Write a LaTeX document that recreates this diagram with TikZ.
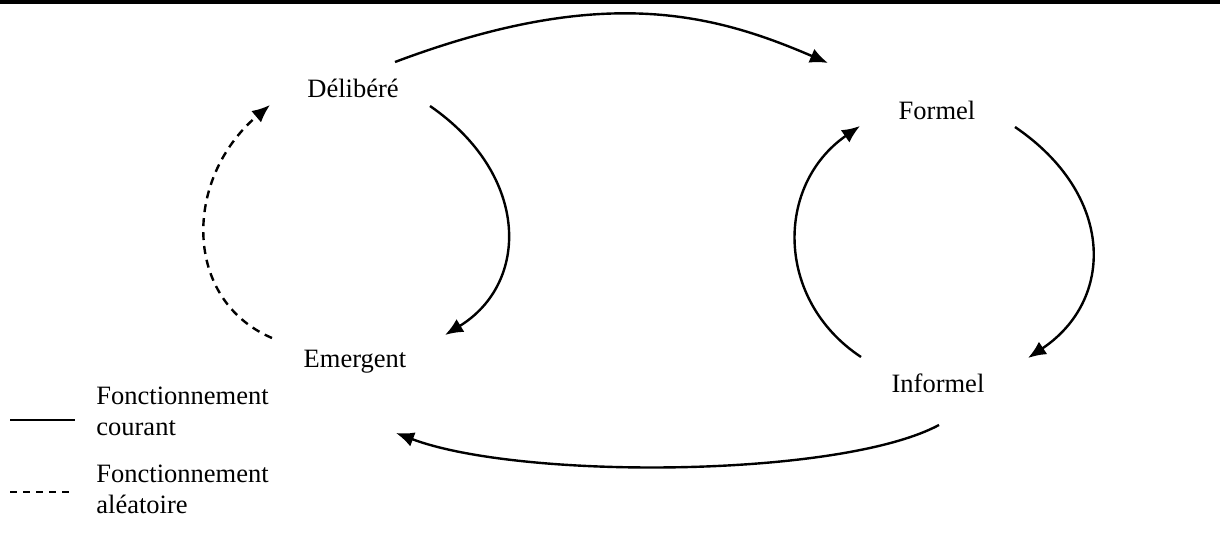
\documentclass[tikz,border=0pt]{standalone}
\usepackage{fontspec}
\setmainfont{Liberation Serif}
\usetikzlibrary{arrows.meta}
\begin{document}
\begin{tikzpicture}[x=0.5pt,y=-0.5pt,
  lbl/.style={font=\fontsize{13.25pt}{15pt}\selectfont, inner sep=0pt},
  leg/.style={font=\fontsize{13.25pt}{15.5pt}\selectfont, inner sep=0pt, align=left, anchor=north west},
  conn/.style={line width=1.2pt, -{Latex[length=9pt,width=7.5pt]}},
  dconn/.style={conn, dash pattern=on 4pt off 3pt},
  legline/.style={line width=1.2pt}]
\useasboundingbox (0,0) rectangle (1220,555);
\fill (0,0) rectangle (1220,4);
\node[lbl] (D) at (353,88) {Délibéré};
\node[lbl] (F) at (937,110) {Formel};
\node[lbl] (E) at (355,362) {Emergent};
\node[lbl] (I) at (938,383) {Informel};
% connectors
\draw[conn] ([shift={(42,-26)}]D.center) .. controls (600,-15) and (710,12) .. ([shift={(-109,-47)}]F.center);
\draw[conn] ([shift={(77,18)}]D.center) .. controls (530,175) and (530,283) .. ([shift={(90,-27)}]E.center);
\draw[dconn] ([shift={(-83,-24)}]E.center) .. controls (183,300) and (183,179) .. ([shift={(-83,17)}]D.center);
\draw[conn] ([shift={(78,17)}]F.center) .. controls (1115,195) and (1115,300) .. ([shift={(90,-25)}]I.center);
\draw[conn] ([shift={(-77,-26)}]I.center) .. controls (775,300) and (775,185) .. ([shift={(-77,16)}]F.center);
\draw[conn] ([shift={(1,42)}]I.center) .. controls (840,478) and (520,480) .. ([shift={(41,71)}]E.center);
% legend
\node[leg] (L1) at (96,387) {Fonctionnement\\courant};
\node[leg] (L2) at (96,465) {Fonctionnement\\aléatoire};
\coordinate (s1) at (10,420);
\coordinate (s2) at (75,420);
\coordinate (d1) at (10,492);
\coordinate (d2) at (73,492);
\draw[legline] (s1) -- (s2);
\draw[legline, dash pattern=on 3.5pt off 3pt] (d1) -- (d2);
\end{tikzpicture}
\end{document}
